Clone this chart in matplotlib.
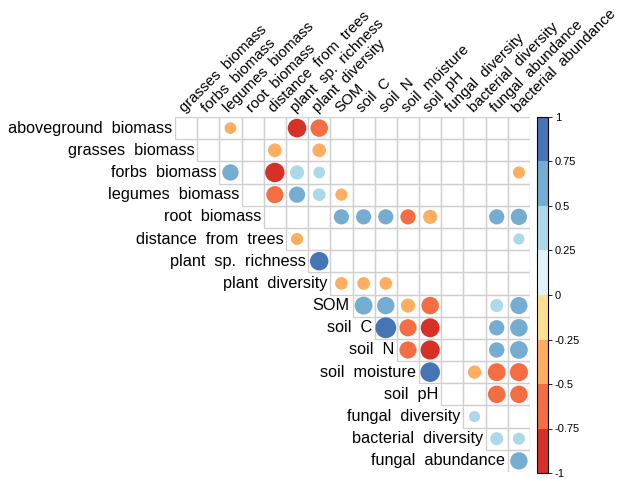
import matplotlib
matplotlib.use("Agg")
import matplotlib.pyplot as plt
from matplotlib.patches import Circle, Rectangle
from matplotlib.colors import ListedColormap, BoundaryNorm
import matplotlib.colorbar as mcolorbar
import numpy as np

plt.rcParams['font.family'] = ['Liberation Sans', 'DejaVu Sans']

# variables (rows use the first 16, columns the last 16)
variables = ["aboveground  biomass", "grasses  biomass", "forbs  biomass",
             "legumes  biomass", "root  biomass", "distance  from  trees",
             "plant  sp.  richness", "plant  diversity", "SOM", "soil  C",
             "soil  N", "soil  moisture", "soil  pH", "fungal  diversity",
             "bacterial  diversity", "fungal  abundance", "bacterial  abundance"]

# significant correlations: (row variable, column variable, r)
pair_a = [0, 0, 0,
          1, 1,
          2, 2, 2, 2, 2,
          3, 3, 3, 3,
          4, 4, 4, 4, 4, 4, 4,
          5, 5,
          6,
          7, 7, 7,
          8, 8, 8, 8, 8, 8,
          9, 9, 9, 9, 9,
          10, 10, 10, 10,
          11, 11, 11, 11,
          12, 12,
          13,
          14, 14,
          15]
pair_b = [3, 6, 7,
          5, 7,
          3, 5, 6, 7, 16,
          5, 6, 7, 8,
          8, 9, 10, 11, 12, 15, 16,
          6, 16,
          7,
          8, 9, 10,
          9, 10, 11, 12, 15, 16,
          10, 11, 12, 15, 16,
          11, 12, 15, 16,
          12, 14, 15, 16,
          15, 16,
          14,
          15, 16,
          16]
pair_r = [-0.31, -0.78, -0.69,
          -0.42, -0.42,
          0.60, -0.85, 0.45, 0.31, -0.33,
          -0.66, 0.59, 0.36, -0.33,
          0.52, 0.52, 0.52, -0.52, -0.45, 0.52, 0.60,
          -0.33, 0.28,
          0.77,
          -0.36, -0.36, -0.36,
          0.72, 0.68, -0.45, -0.69, 0.38, 0.66,
          0.97, -0.66, -0.80, 0.53, 0.69,
          -0.66, -0.83, 0.53, 0.71,
          0.86, -0.40, -0.72, -0.74,
          -0.69, -0.69,
          0.28,
          0.38, 0.33,
          0.68]

bin_colors = ["#D73027", "#F46D43", "#FDAE61", "#FEE090",
              "#E0F3F8", "#ABD9E9", "#74ADD1", "#4575B4"]
bounds = np.linspace(-1, 1, 9)
cmap = ListedColormap(bin_colors)
norm = BoundaryNorm(bounds, cmap.N)

n = len(variables) - 1
W, H = 630, 479
fig = plt.figure(figsize=(W / 100, H / 100), dpi=100)
ax = fig.add_axes([175 / W, 1 - 472 / H, 355 / W, 355 / H])
ax.set_xlim(-0.5, n - 0.5)
ax.set_ylim(n - 0.5, -0.5)
ax.axis("off")

# cell borders of the upper triangle
for i in range(n):
    for j in range(i, n):
        ax.add_patch(Rectangle((j - 0.5, i - 0.5), 1, 1, fill=False,
                               edgecolor="#CFCFCF", linewidth=0.9))

# circles
for a, b, r in zip(pair_a, pair_b, pair_r):
    ax.add_patch(Circle((b - 1, a), 0.475 * np.sqrt(abs(r)),
                        facecolor=cmap(norm(r)), edgecolor="none"))

for i in range(n):
    ax.text(i - 0.62, i, variables[i], ha="right", va="center", fontsize=11.7)
for j in range(n):
    ax.text(j - 0.05, -0.68, variables[j + 1], ha="left", va="baseline",
            rotation=45, rotation_mode="anchor", fontsize=10.8)

# colour legend
cax = fig.add_axes([537 / W, 1 - 473 / H, 11 / W, 356 / H])
cb = mcolorbar.ColorbarBase(cax, cmap=cmap, norm=norm, boundaries=bounds,
                            ticks=bounds, orientation="vertical")
cb.ax.set_yticklabels(["-1", "-0.75", "-0.5", "-0.25", "0", "0.25", "0.5", "0.75", "1"])
cb.ax.tick_params(labelsize=8, length=3, width=0.6, pad=2)
cb.outline.set_linewidth(0.8)

fig.savefig("out.png", dpi=100)
